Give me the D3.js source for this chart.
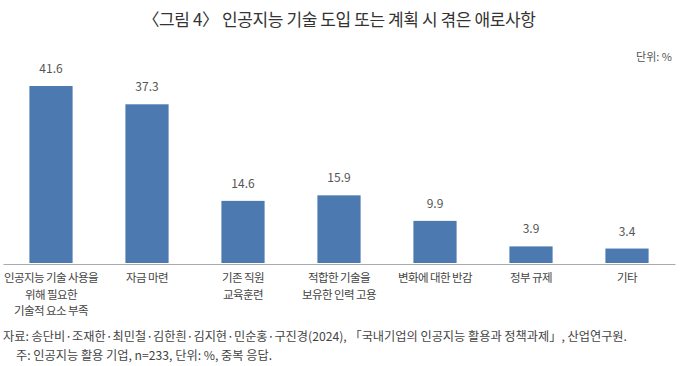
<!DOCTYPE html>
<html>
<head>
<meta charset="utf-8">
<script src="https://cdn.jsdelivr.net/npm/d3@7"></script>
<style>
  body { margin: 0; background: #fff; }
  text { font-family: "Noto Sans CJK KR", "Noto Sans", sans-serif; }
</style>
</head>
<body>
<div id="container"></div>
<script>
/* CONSTANTS AND GLOBALS */
const width = 680,
  height = 366,
  margin = { top: 86, bottom: 103, left: 3, right: 5 };

/* DATA */
const categories = [
  ["인공지능 기술 사용을", "위해 필요한", "기술적 요소 부족"],
  ["자금 마련"],
  ["기존 직원", "교육훈련"],
  ["적합한 기술을", "보유한 인력 고용"],
  ["변화에 대한 반감"],
  ["정부 규제"],
  ["기타"]
];
const values = [41.6, 37.3, 14.6, 15.9, 9.9, 3.9, 3.4];

const title = "〈그림 4〉 인공지능 기술 도입 또는 계획 시 겪은 애로사항";
const unitLabel = "단위: %";
const sourceLine = "자료: 송단비·조재한·최민철·김한흰·김지현·민순홍·구진경(2024), 「국내기업의 인공지능 활용과 정책과제」, 산업연구원.";
const noteLine = "주: 인공지능 활용 기업, n=233, 단위: %, 중복 응답.";

const data = values.map((v, i) => ({ key: i, lines: categories[i], value: v }));

// + CREATE SVG ELEMENT
const svg = d3.select("#container")
  .append("svg")
  .attr("width", width)
  .attr("height", height);

// + SCALES
const xScale = d3.scaleBand()
  .domain(data.map(d => d.key))
  .range([margin.left, width - margin.right])
  .paddingInner(0.55)
  .paddingOuter(0.275);

const yScale = d3.scaleLinear()
  .domain([0, d3.max(values)])
  .range([height - margin.bottom, margin.top]);

// title
svg.append("text")
  .attr("x", width / 2 - 1)
  .attr("y", 26)
  .attr("text-anchor", "middle")
  .attr("font-size", 17)
  .attr("letter-spacing", -0.4)
  .attr("fill", "#333")
  .text(title);

svg.append("text")
  .attr("x", 672)
  .attr("y", 61)
  .attr("text-anchor", "end")
  .attr("font-size", 11)
  .attr("fill", "#555")
  .text(unitLabel);

// + BARS
svg.selectAll("rect.bar")
  .data(data)
  .join("rect")
  .attr("class", "bar")
  .attr("x", d => xScale(d.key))
  .attr("width", xScale.bandwidth())
  .attr("y", d => yScale(d.value))
  .attr("height", d => yScale(0) - yScale(d.value))
  .attr("fill", "#4c79b0");

// value labels
svg.selectAll("text.val")
  .data(data)
  .join("text")
  .attr("class", "val")
  .attr("x", d => xScale(d.key) + xScale.bandwidth() / 2)
  .attr("y", d => yScale(d.value) - 13)
  .attr("text-anchor", "middle")
  .attr("font-size", 12)
  .attr("fill", "#555")
  .text(d => d.value.toFixed(1));

// + AXIS (baseline only)
const xAxis = d3.axisBottom(xScale).tickSize(0).tickFormat("");
svg.append("g")
  .attr("transform", `translate(0,${yScale(0) + 1})`)
  .call(xAxis)
  .call(g => g.select(".domain").attr("stroke", "#aaa"));

// category labels, multi-line
const cat = svg.selectAll("text.cat")
  .data(data)
  .join("text")
  .attr("class", "cat")
  .attr("text-anchor", "middle")
  .attr("font-size", 11.5)
  .attr("letter-spacing", -0.6)
  .attr("fill", "#444");

cat.selectAll("tspan")
  .data(d => d.lines.map(l => ({ l, x: xScale(d.key) + xScale.bandwidth() / 2 })))
  .join("tspan")
  .attr("x", d => d.x)
  .attr("y", (d, i) => 282 + i * 16.5)
  .text(d => d.l);

// source and note
svg.append("text")
  .attr("x", 3)
  .attr("y", 341)
  .attr("font-size", 12.2)
  .attr("fill", "#444")
  .text(sourceLine);

svg.append("text")
  .attr("x", 16)
  .attr("y", 360)
  .attr("font-size", 12.2)
  .attr("fill", "#444")
  .text(noteLine);
</script>
</body>
</html>
